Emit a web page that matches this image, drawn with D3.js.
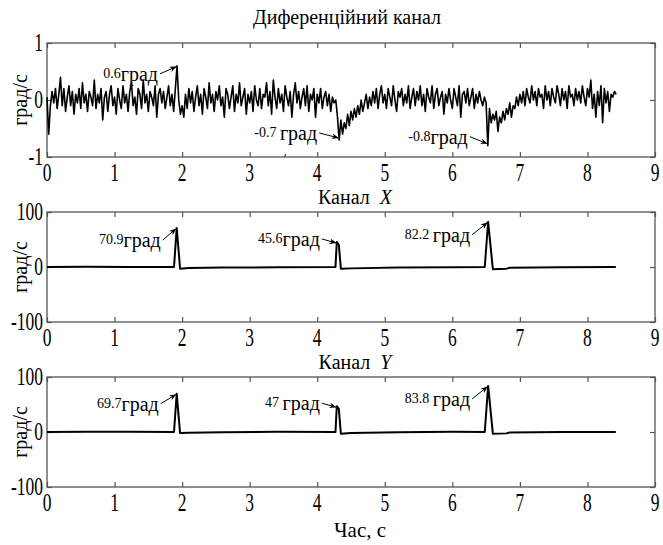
<!DOCTYPE html>
<html>
<head>
<meta charset="utf-8">
<script src="https://cdn.jsdelivr.net/npm/d3@7"></script>
<style>
  body { margin: 0; background: #fff; }
  text { font-family: "Liberation Serif", "Times New Roman", serif; fill: #000; }
</style>
</head>
<body>
<svg id="chart" width="663" height="545"></svg>
<script>
// ================= DATA =================
// differential channel, one sample every 0.025 s
const diffStep = 0.025;
const diffValues = [
  0.05, -0.6, -0.1, 0.15, -0.05, 0.2, -0.15, 0.1, 0.4, -0.1,
  0.2, -0.2, 0.05, 0.25, -0.1, 0.15, -0.25, 0.1, -0.05, 0.2,
  -0.15, 0.3, -0.05, 0.1, -0.2, 0.15, 0.05, -0.1, 0.35, -0.15,
  0.1, -0.05, 0.2, -0.35, 0.05, 0.15, -0.2, 0.1, 0.25, -0.1,
  0.05, -0.25, 0.2, 0.0, -0.15, 0.25, -0.05, 0.1, -0.2, 0.15,
  0.3, -0.1, 0.05, -0.25, 0.2, 0.1, -0.15, 0.35, -0.05, 0.1,
  -0.2, 0.15, 0.05, -0.1, 0.25, -0.3, 0.1, 0.2, -0.05, 0.15,
  -0.15, 0.05, 0.25, -0.1, 0.1, -0.2, 0.2, 0.6, 0.0, -0.25,
  -0.1, -0.3, 0.1, -0.15, 0.2, -0.05, 0.15, -0.2, 0.05, 0.25,
  -0.1, 0.1, -0.25, 0.2, 0.05, -0.15, 0.3, -0.05, 0.1, -0.2,
  0.15, 0.0, 0.25, -0.1, 0.05, -0.3, 0.2, 0.1, -0.15, 0.05,
  0.25, -0.2, 0.1, -0.05, 0.3, -0.1, 0.05, 0.2, -0.25, 0.1,
  -0.05, 0.15, -0.2, 0.25, 0.0, -0.1, 0.2, -0.15, 0.1, 0.05,
  0.3, -0.1, 0.15, -0.25, 0.35, 0.05, -0.15, 0.2, -0.05, 0.1,
  -0.2, 0.25, 0.05, -0.1, 0.15, -0.3, 0.1, 0.3, -0.05, 0.15,
  -0.15, 0.05, 0.2, -0.1, 0.25, -0.2, 0.1, 0.0, 0.2, -0.3,
  0.1, -0.05, 0.2, -0.15, 0.05, 0.15, -0.1, 0.1, -0.2, 0.05,
  -0.05, 0.0, -0.3, -0.7, -0.35, -0.6, -0.4, -0.5, -0.25, -0.45,
  -0.2, -0.35, -0.15, -0.3, -0.1, -0.25, 0.0, -0.2, -0.05, 0.1,
  -0.15, 0.05, -0.1, 0.15, -0.05, 0.2, -0.15, 0.1, 0.25, -0.05,
  0.1, -0.15, 0.2, 0.05, -0.1, 0.25, 0.0, -0.2, 0.15, 0.05,
  0.2, -0.1, 0.1, -0.05, 0.25, -0.15, 0.05, 0.2, -0.1, 0.15,
  0.0, 0.25, -0.1, 0.1, -0.2, 0.2, 0.05, -0.05, 0.25, -0.15,
  0.1, 0.2, -0.1, 0.05, 0.15, -0.25, 0.1, -0.05, 0.2, 0.0,
  -0.15, 0.2, 0.05, -0.1, 0.25, -0.3, 0.1, 0.15, -0.05, 0.2,
  -0.1, 0.05, 0.2, -0.15, 0.1, -0.05, 0.15, 0.0, -0.1, 0.05,
  -0.05, -0.8, -0.15, -0.4, -0.25, -0.35, -0.2, -0.55, -0.3, -0.4,
  -0.2, -0.35, -0.15, -0.25, -0.05, -0.3, -0.1, -0.15, 0.05, -0.1,
  0.1, -0.05, 0.15, -0.1, 0.2, 0.05, -0.05, 0.25, 0.0, 0.15,
  -0.1, 0.2, 0.05, 0.1, -0.15, 0.25, 0.0, 0.15, -0.1, 0.2,
  0.05, -0.05, 0.25, 0.1, -0.1, 0.2, 0.0, 0.15, -0.15, 0.25,
  0.05, 0.1, -0.1, 0.2, 0.0, 0.15, -0.05, 0.25, 0.05, -0.1,
  0.2, 0.05, 0.35, -0.15, 0.1, -0.3, 0.15, -0.1, 0.25, -0.4,
  0.2, -0.05, 0.15, -0.2, 0.1, 0.05, 0.15, 0.1
];

// channel X
const xTimes  = [0, 0.6, 1.2, 1.88, 1.92, 1.97, 2.1, 2.6, 3.4, 4.27, 4.29, 4.32, 4.35, 4.5, 5.2, 6.0, 6.48, 6.53, 6.6, 6.8, 6.85, 7.6, 8.42];
const xValues = [0, 0.5, 0, 0, 70.9, -3, -2, -1, -0.5, 0, 45.6, 40, -3, -2.5, -1, -0.5, 0, 82.2, -4, -3, -1.5, -0.5, 0];

// channel Y
const yTimes  = [0, 0.6, 1.2, 1.88, 1.92, 1.97, 2.1, 2.6, 3.4, 4.27, 4.29, 4.32, 4.35, 4.5, 5.2, 6.0, 6.48, 6.53, 6.6, 6.8, 6.85, 7.6, 8.42];
const yValues = [0, 0.5, 0.5, 0, 69.7, -2, -1.5, -0.5, 0.5, 0, 47, 42, -3, -2, -0.5, 0.5, 0, 83.8, -3, -2.5, -1, 0, 0];

// peak annotations
const diffPeaks = [{ t: 1.925, v: 0.6, label: "0.6" }, { t: 4.325, v: -0.7, label: "-0.7 " }, { t: 6.525, v: -0.8, label: "-0.8" }];
const xPeaks = [{ t: 1.92, v: 70.9, label: "70.9" }, { t: 4.29, v: 45.6, label: "45.6" }, { t: 6.53, v: 82.2, label: "82.2 " }];
const yPeaks = [{ t: 1.92, v: 69.7, label: "69.7" }, { t: 4.29, v: 47, label: "47 " }, { t: 6.53, v: 83.8, label: "83.8 " }];

const xTicks = [0, 1, 2, 3, 4, 5, 6, 7, 8, 9];
const diffTicks = [-1, 0, 1];
const chanTicks = [-100, 0, 100];

// ================= LAYOUT =================
const svg = d3.select("#chart")
  .attr("font-family", "'Liberation Serif', 'Times New Roman', serif");
const left = 47, right = 655;

// arrow tail offset (px) from the peak, per annotation
const arrowOffsets = [
  [[-17, 8], [-20, -7], [-18, -9]],
  [[-14, 12], [-15, -3], [-16, 13]],
  [[-16, 10], [-15, -3], [-16, 13]]
];

const panels = [
  { top: 43, bottom: 157, domain: [-1, 1], ticks: diffTicks, title: "Диференційний канал", titleX: 347, titleY: 24,
    times: diffValues.map((_, i) => i * diffStep), values: diffValues, peaks: diffPeaks, lw: 1.6 },
  { top: 212, bottom: 322, domain: [-100, 100], ticks: chanTicks, title: "Канал", axisName: "X", titleX: 355, titleY: 204,
    times: xTimes, values: xValues, peaks: xPeaks, lw: 2 },
  { top: 377, bottom: 487, domain: [-100, 100], ticks: chanTicks, title: "Канал", axisName: "Y", titleX: 355, titleY: 369,
    times: yTimes, values: yValues, peaks: yPeaks, lw: 2 }
];

const x = d3.scaleLinear().domain([0, 9]).range([left, right]);

const defs = svg.append("defs");
defs.append("marker")
  .attr("id", "arrow")
  .attr("viewBox", "0 0 10 10")
  .attr("refX", 9).attr("refY", 5)
  .attr("markerWidth", 7).attr("markerHeight", 7)
  .attr("orient", "auto")
  .append("path")
  .attr("d", "M0,1 L10,5 L0,9 L3,5 Z")
  .attr("fill", "#000");

panels.forEach((p, pi) => {
  const y = d3.scaleLinear().domain(p.domain).range([p.bottom, p.top]);
  const g = svg.append("g");

  // frame
  g.append("rect")
    .attr("x", left).attr("y", p.top)
    .attr("width", right - left).attr("height", p.bottom - p.top)
    .attr("fill", "none").attr("stroke", "#555").attr("stroke-width", 1.3);

  // inward ticks on all four sides
  const tickLen = 5;
  const axB = d3.axisBottom(x).tickValues(xTicks).tickSize(-tickLen).tickFormat("");
  const axT = d3.axisTop(x).tickValues(xTicks).tickSize(-tickLen).tickFormat("");
  const axL = d3.axisLeft(y).tickValues(p.ticks).tickSize(-tickLen).tickFormat("");
  const axR = d3.axisRight(y).tickValues(p.ticks).tickSize(-tickLen).tickFormat("");
  [[axB, `translate(0,${p.bottom})`], [axT, `translate(0,${p.top})`],
   [axL, `translate(${left},0)`], [axR, `translate(${right},0)`]].forEach(([ax, tr]) => {
    const a = g.append("g").attr("transform", tr).call(ax);
    a.select(".domain").remove();
    a.selectAll("line").attr("stroke", "#555").attr("stroke-width", 1.2);
  });

  // tick labels (tall and narrow like the original)
  g.selectAll(".xl").data(xTicks).join("text")
    .attr("transform", d => `translate(${x(d)},${p.bottom + 24}) scale(0.7,1)`)
    .attr("text-anchor", "middle")
    .attr("font-size", 25)
    .text(d => d);
  g.selectAll(".yl").data(p.ticks).join("text")
    .attr("transform", d => `translate(${left - 4},${y(d) + 8}) scale(0.7,1)`)
    .attr("text-anchor", "end")
    .attr("font-size", 25)
    .text(d => d);

  // y label
  g.append("text")
    .attr("transform", `translate(27,${(p.top + p.bottom) / 2}) rotate(-90)`)
    .attr("text-anchor", "middle")
    .attr("font-size", 20)
    .text("град/с");

  // title
  const title = g.append("text")
    .attr("x", p.titleX)
    .attr("y", p.titleY)
    .attr("text-anchor", "middle")
    .attr("font-size", 20)
    .text(p.title);
  if (p.axisName) {
    title.append("tspan").attr("font-style", "italic").text("\u00a0\u00a0" + p.axisName);
  }

  // signal
  const line = d3.line().x(d => x(d[0])).y(d => y(d[1]));
  g.append("path")
    .datum(p.times.map((t, i) => [t, p.values[i]]))
    .attr("fill", "none")
    .attr("stroke", "#000")
    .attr("stroke-width", p.lw)
    .attr("stroke-linejoin", "round")
    .attr("d", line);

  // peak annotations
  p.peaks.forEach((pk, k) => {
    const px = x(pk.t), py = y(pk.v);
    const [dx, dy] = arrowOffsets[pi][k];
    const tx = px + dx, ty = py + dy;
    g.append("line")
      .attr("x1", tx).attr("y1", ty)
      .attr("x2", px - 1).attr("y2", py + (pk.v < 0 ? -2 : 1))
      .attr("stroke", "#000").attr("stroke-width", 1)
      .attr("marker-end", "url(#arrow)");
    const lab = g.append("text")
      .attr("x", tx - 2)
      .attr("y", ty + 7)
      .attr("text-anchor", "end");
    lab.append("tspan").attr("font-size", 14).attr("dy", -3).text(pk.label.replace(" ", "\u00a0"));
    lab.append("tspan").attr("font-size", 20).attr("dy", 3).text("град");
  });

  // stray "/с" remnant peeking above the bottom frame of the first panel
  if (pi === 0) {
    defs.append("clipPath").attr("id", "clip0")
      .append("rect").attr("x", left).attr("y", p.top).attr("width", right - left).attr("height", p.bottom - p.top);
    g.append("text")
      .attr("clip-path", "url(#clip0)")
      .attr("x", 281).attr("y", p.bottom + 10)
      .attr("font-size", 18)
      .attr("fill", "#444")
      .text("/с");
  }
});

// x axis label
svg.append("text")
  .attr("x", 360).attr("y", 537)
  .attr("text-anchor", "middle")
  .attr("font-size", 21)
  .text("Час, с");
</script>
</body>
</html>
